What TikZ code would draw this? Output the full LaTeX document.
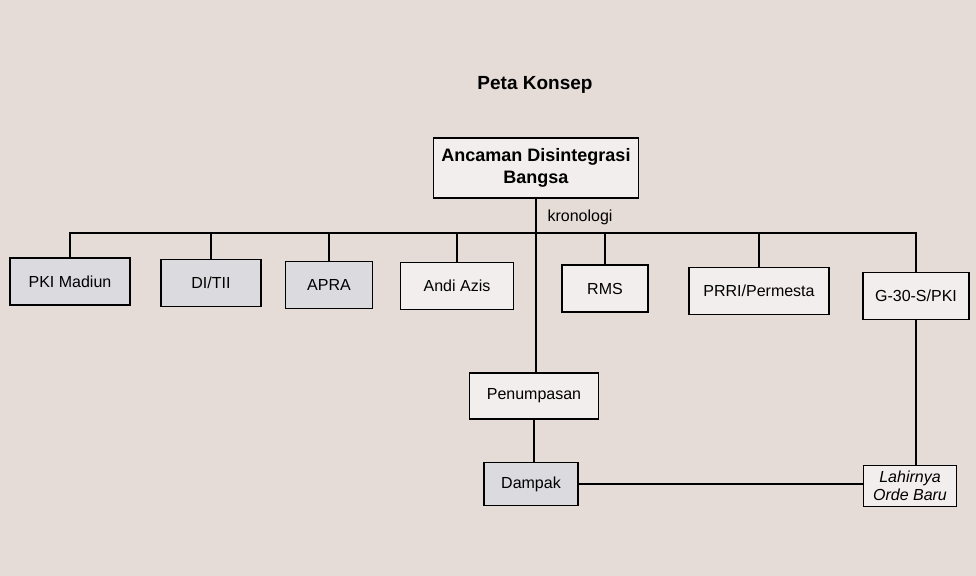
\documentclass[tikz,border=0pt]{standalone}
\usepackage{fontspec}
\setmainfont{Liberation Sans}
\begin{document}
\begin{tikzpicture} [x=0.5pt,y=-0.5pt]
    % colours and styles %
    \definecolor{paper}{RGB}{229,219,215}
    \definecolor{greybox}{RGB}{219,219,223}
    \definecolor{whitebox}{RGB}{241,238,237}
    \tikzset{
      box/.style={draw, line width=0.8pt, fill=whitebox, inner sep=2pt,
        minimum height=23.5pt, font=\fontsize{8}{9.5}\selectfont},
      greyfill/.style={fill=greybox},
      link/.style={line width=0.8pt}
    }
    \fill[paper] (0,0) rectangle (976,576);
    \useasboundingbox (0,0) rectangle (976,576);

    % title and root %
    \node (title) at (535,85) {\fontsize{9.5}{11}\selectfont\bfseries Peta Konsep};
    \node[box, minimum width=102.5pt, minimum height=30pt, align=center,
      font=\fontsize{9}{11}\selectfont\bfseries] (root) at (536,168)
      {Ancaman Disintegrasi\\Bangsa};
    \node[font=\fontsize{8}{9.5}\selectfont] (kron) at (580,217) {kronologi};

    % events %
    \node[box, greyfill, minimum width=60pt] (pki) at (70,281.5) {PKI Madiun};
    \node[box, greyfill, minimum width=50pt] (ditii) at (211,283) {DI/TII};
    \node[box, greyfill, minimum width=43.5pt] (apra) at (329,285) {APRA};
    \node[box, minimum width=56.5pt] (andi) at (457,286) {Andi Azis};
    \node[box, minimum width=43pt] (rms) at (605,288.5) {RMS};
    \node[box, minimum width=70pt] (prri) at (759,291) {PRRI/Permesta};
    \node[box, minimum width=53pt] (gtiga) at (916,296) {G-30-S/PKI};

    % follow-up %
    \node[box, minimum width=64.5pt, minimum height=23pt] (penum) at (534,396) {Penumpasan};
    \node[box, greyfill, minimum width=47pt, minimum height=21.5pt] (dampak) at (531,484) {Dampak};
    \node[box, minimum width=46.5pt, minimum height=20.5pt, align=center,
      font=\fontsize{8}{9}\selectfont\itshape] (lahir) at (910,486) {Lahirnya\\Orde Baru};

    % connectors %
    \coordinate (bar) at (0,233);
    \draw[link] (pki.north) |- (gtiga.north |- bar) -- (gtiga.north);
    \foreach \n in {ditii,apra,andi,rms,prri}
      \draw[link] (\n.north) -- (\n.north |- bar);
    \draw[link] (root.south) -- (root.south |- penum.north);
    \draw[link] (penum.south) -- (penum.south |- dampak.north);
    \draw[link] (gtiga.south) -- (gtiga.south |- lahir.north);
    \draw[link] (dampak.east) -- (dampak.east -| lahir.west);
  \end{tikzpicture}
\end{document}
